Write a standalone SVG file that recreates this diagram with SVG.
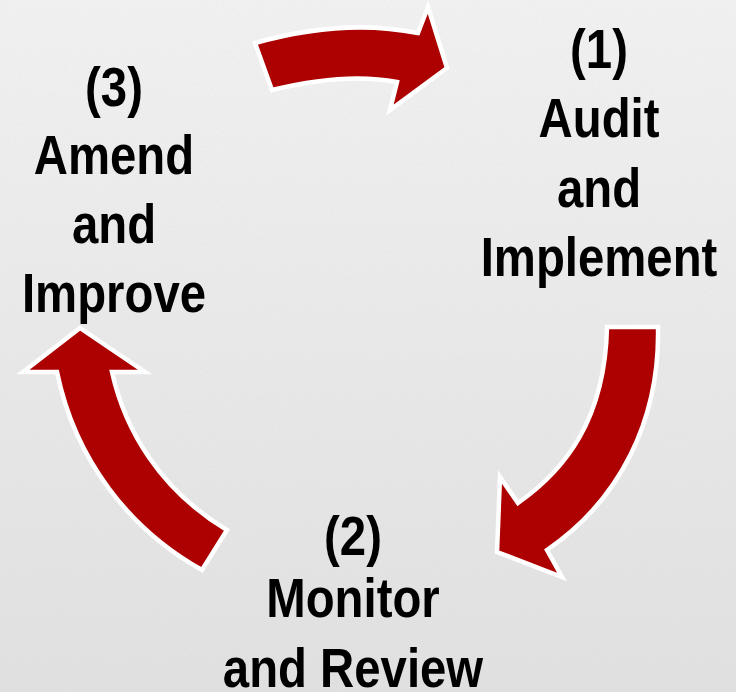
<svg xmlns="http://www.w3.org/2000/svg" width="736" height="692" viewBox="0 0 736 692">
  <defs>
    <linearGradient id="bg" x1="0" y1="0" x2="0" y2="1">
      <stop offset="0" stop-color="#f3f3f3"/>
      <stop offset="1" stop-color="#e2e2e2"/>
    </linearGradient>
    <filter id="noise" x="0" y="0" width="100%" height="100%">
      <feTurbulence type="fractalNoise" baseFrequency="0.9 0.35" numOctaves="2" seed="3" result="t"/>
      <feColorMatrix type="matrix" values="0 0 0 0 0.5  0 0 0 0 0.5  0 0 0 0 0.5  0 0 0 0.12 0"/>
    </filter>
    <style>
      .arrow { fill: #ad0000; stroke: #ffffff; stroke-width: 4.5; stroke-linejoin: miter; }
      .lbl { font-family: "Liberation Sans", Arial, sans-serif; font-weight: bold; font-size: 56px; fill: #000000; text-anchor: middle; }
    </style>
  </defs>
  <rect width="736" height="692" fill="url(#bg)"/>
  <rect width="736" height="692" filter="url(#noise)"/>

  <g id="connectors">
    <path class="arrow" d="M 255,43 Q 343.5,18 418,33 L 428,7 L 447,68 L 390,110 L 397,82 Q 345.5,72 272,90 Z"/>
    <path class="arrow" d="M 607,327 L 658,327 C 660,420 620,500 547,550 L 562,577 L 497,552 L 500,477 L 518,503 C 565,470 605,420 607,327 Z"/>
    <path class="arrow" d="M 80,328 L 145,372 L 112,372 C 125,430 160,490 227,530 L 202,570 C 130,530 75,460 57,372 L 23,372 Z"/>
  </g>

  <g id="node1" transform="translate(599,0) scale(0.845,1)">
    <text class="lbl" x="0" y="68">(1)</text>
    <text class="lbl" x="0" y="137">Audit</text>
    <text class="lbl" x="0" y="207">and</text>
    <text class="lbl" x="0" y="276">Implement</text>
  </g>
  <g id="node2" transform="translate(353,0) scale(0.845,1)">
    <text class="lbl" x="0" y="555">(2)</text>
    <text class="lbl" x="0" y="617">Monitor</text>
    <text class="lbl" x="0" y="687">and Review</text>
  </g>
  <g id="node3" transform="translate(114,0) scale(0.845,1)">
    <text class="lbl" x="0" y="106">(3)</text>
    <text class="lbl" x="0" y="174">Amend</text>
    <text class="lbl" x="0" y="243">and</text>
    <text class="lbl" x="0" y="312">Improve</text>
  </g>
</svg>
